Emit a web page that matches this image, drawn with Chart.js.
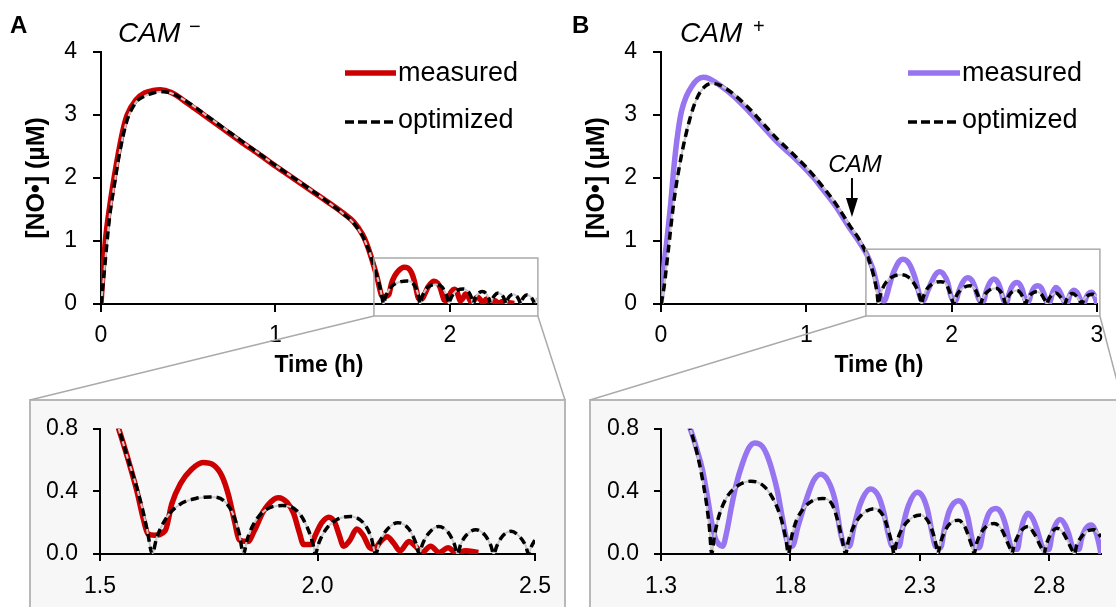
<!DOCTYPE html>
<html lang="en">
<head>
<meta charset="UTF-8">
<meta name="viewport" content="width=device-width, initial-scale=1.0">
<title>[NO•] measured vs optimized, CAM− / CAM+</title>
<script src="https://cdn.jsdelivr.net/npm/chart.js"></script>
<style>
  body { margin: 0; background: #fff; font-family: 'Liberation Sans', Arial, sans-serif; }
  #page { position: relative; width: 1116px; height: 607px; overflow: hidden; }
  #page canvas { position: absolute; }
  .txt { position: absolute; line-height: 1; white-space: nowrap; color: #000; }
  .panel { font-weight: bold; font-size: 24px; }
  .cond { font-style: italic; font-size: 28px; }
  .sup { font-size: 20px; }
  .key { font-size: 27px; }
  .swatch { position: absolute; }
  .zoombox { position: absolute; background: #f7f7f7; border: 2px solid #b8b8b8; box-sizing: border-box; }
</style>
</head>
<body>
<div id="page">
  <!-- shaded frames behind the two zoomed views -->
  <div class="zoombox" style="left:29px;top:399px;width:537px;height:230px"></div>
  <div class="zoombox" style="left:589px;top:399px;width:560px;height:230px"></div>

  <canvas id="zoomA" width="535" height="207" style="left:30px;top:400px"></canvas>
  <canvas id="zoomB" width="526" height="207" style="left:590px;top:400px"></canvas>
  <canvas id="mainA" width="580" height="400" style="left:0;top:0"></canvas>
  <canvas id="mainB" width="556" height="400" style="left:560px;top:0"></canvas>

  <!-- panel A labels -->
  <div class="txt panel" style="left:10px;top:13px">A</div>
  <div class="txt cond" style="left:118px;top:19px">CAM</div>
  <div class="txt sup" style="left:189px;top:16px">−</div>
  <svg class="swatch" style="left:345px;top:68px" width="51" height="10"><line x1="0" y1="5" x2="51" y2="5" stroke="#cc0000" stroke-width="5.5" stroke-linecap="round"/></svg>
  <div class="txt key" style="left:398px;top:59px">measured</div>
  <svg class="swatch" style="left:345px;top:117px" width="51" height="10"><line x1="0" y1="5" x2="51" y2="5" stroke="#000" stroke-width="3.5" stroke-dasharray="9,4"/></svg>
  <div class="txt key" style="left:398px;top:106px">optimized</div>

  <!-- panel B labels -->
  <div class="txt panel" style="left:572px;top:13px">B</div>
  <div class="txt cond" style="left:680px;top:19px">CAM</div>
  <div class="txt sup" style="left:753px;top:16px">+</div>
  <svg class="swatch" style="left:908px;top:68px" width="52" height="10"><line x1="0" y1="5" x2="52" y2="5" stroke="#9775f0" stroke-width="5.5" stroke-linecap="round"/></svg>
  <div class="txt key" style="left:962px;top:59px">measured</div>
  <svg class="swatch" style="left:908px;top:117px" width="52" height="10"><line x1="0" y1="5" x2="52" y2="5" stroke="#000" stroke-width="3.5" stroke-dasharray="9,4"/></svg>
  <div class="txt key" style="left:962px;top:106px">optimized</div>
</div>

<script>
  // time (h) and [NO•] (µM) — CAM− run
  const measA_t = [0, 0.01, 0.025, 0.05, 0.075, 0.1, 0.125, 0.15, 0.2, 0.25, 0.3, 0.34, 0.4, 0.5, 0.6, 0.7, 0.8, 0.9, 1.0, 1.1,
    1.2, 1.3, 1.39, 1.45, 1.5, 1.52, 1.543, 1.565, 1.585, 1.6, 1.61, 1.625, 1.65, 1.665, 1.685, 1.71, 1.737, 1.76, 1.78, 1.795,
    1.81, 1.82, 1.84, 1.855, 1.875, 1.9, 1.91, 1.93, 1.945, 1.958, 1.968, 1.985, 1.995, 2.01, 2.026, 2.04, 2.05, 2.06, 2.075, 2.09,
    2.105, 2.12, 2.13, 2.145, 2.16, 2.175, 2.19, 2.21, 2.225, 2.24, 2.26, 2.28, 2.30, 2.32, 2.34, 2.37];
  const measA_v = [0, 0.45, 1.0, 1.55, 2.0, 2.4, 2.75, 3.0, 3.24, 3.35, 3.39, 3.4, 3.36, 3.18, 2.98, 2.78, 2.58, 2.39, 2.19, 2.0,
    1.81, 1.62, 1.44, 1.3, 1.1, 0.98, 0.8, 0.6, 0.4, 0.22, 0.13, 0.12, 0.15, 0.32, 0.45, 0.54, 0.585, 0.57, 0.5, 0.38,
    0.2, 0.09, 0.08, 0.15, 0.27, 0.35, 0.36, 0.33, 0.26, 0.14, 0.06, 0.06, 0.12, 0.2, 0.235, 0.2, 0.12, 0.05, 0.09, 0.16,
    0.12, 0.04, 0.03, 0.08, 0.11, 0.07, 0.02, 0.08, 0.05, 0.01, 0.05, 0.01, 0.04, 0.005, 0.02, 0.01];
  const optA_t = [0, 0.015, 0.03, 0.05, 0.08, 0.1, 0.125, 0.15, 0.2, 0.25, 0.3, 0.36, 0.4, 0.5, 0.6, 0.7, 0.8, 0.9, 1.0, 1.1,
    1.2, 1.3, 1.39, 1.45, 1.5, 1.52, 1.543, 1.565, 1.585, 1.6, 1.61, 1.62, 1.63, 1.65, 1.68, 1.72, 1.754, 1.785, 1.805, 1.82,
    1.83, 1.838, 1.855, 1.88, 1.92, 1.955, 1.978, 1.99, 1.995, 2.003, 2.02, 2.045, 2.075, 2.105, 2.123, 2.134, 2.142, 2.158, 2.185, 2.21,
    2.226, 2.234, 2.241, 2.255, 2.278, 2.3, 2.315, 2.322, 2.329, 2.342, 2.364, 2.385, 2.399, 2.405, 2.412, 2.424, 2.445, 2.465, 2.479, 2.485,
    2.492, 2.5];
  const optA_v = [0, 0.4, 0.85, 1.4, 1.95, 2.3, 2.65, 2.92, 3.2, 3.3, 3.35, 3.37, 3.35, 3.2, 3.0, 2.8, 2.6, 2.4, 2.2, 2.01,
    1.82, 1.62, 1.43, 1.28, 1.08, 0.96, 0.8, 0.6, 0.42, 0.26, 0.13, 0, 0.1, 0.22, 0.31, 0.355, 0.365, 0.34, 0.26, 0.13,
    0, 0.09, 0.2, 0.28, 0.31, 0.27, 0.16, 0.06, 0, 0.07, 0.16, 0.22, 0.24, 0.2, 0.11, 0, 0.07, 0.15, 0.2, 0.16,
    0.07, 0, 0.06, 0.13, 0.175, 0.14, 0.06, 0, 0.06, 0.12, 0.155, 0.12, 0.05, 0, 0.05, 0.11, 0.145, 0.11, 0.05, 0,
    0.05, 0.09];

  // time (h) and [NO•] (µM) — CAM+ run
  const measB_t = [0, 0.01, 0.02, 0.04, 0.065, 0.09, 0.115, 0.14, 0.175, 0.21, 0.25, 0.29, 0.33, 0.4, 0.5, 0.6, 0.7, 0.8, 0.9, 0.97,
    1.02, 1.06, 1.1, 1.2, 1.3, 1.36, 1.413, 1.44, 1.46, 1.48, 1.496, 1.51, 1.525, 1.538, 1.555, 1.572, 1.59, 1.614, 1.64, 1.662,
    1.69, 1.71, 1.73, 1.75, 1.77, 1.786, 1.807, 1.83, 1.862, 1.89, 1.917, 1.945, 1.973, 1.992, 2.007, 2.028, 2.045, 2.07, 2.11, 2.14,
    2.16, 2.178, 2.194, 2.22, 2.235, 2.256, 2.29, 2.31, 2.33, 2.348, 2.36, 2.38, 2.395, 2.415, 2.45, 2.47, 2.486, 2.5, 2.51, 2.53,
    2.545, 2.567, 2.594, 2.615, 2.632, 2.646, 2.656, 2.677, 2.688, 2.7, 2.718, 2.735, 2.752, 2.768, 2.78, 2.8, 2.81, 2.822, 2.842, 2.86,
    2.875, 2.887, 2.897, 2.915, 2.925, 2.94, 2.963, 2.978, 2.99, 3.0];
  const measB_v = [0, 0.3, 0.6, 1.0, 1.55, 2.2, 2.7, 3.05, 3.3, 3.45, 3.56, 3.6, 3.58, 3.48, 3.3, 3.07, 2.82, 2.57, 2.36, 2.2,
    2.08, 1.98, 1.86, 1.56, 1.2, 1.0, 0.8, 0.66, 0.54, 0.36, 0.2, 0.1, 0.06, 0.05, 0.15, 0.3, 0.44, 0.575, 0.68, 0.71,
    0.69, 0.63, 0.53, 0.4, 0.22, 0.09, 0.05, 0.18, 0.35, 0.47, 0.51, 0.47, 0.34, 0.15, 0.06, 0.05, 0.17, 0.32, 0.415, 0.37,
    0.27, 0.13, 0.05, 0.05, 0.18, 0.31, 0.395, 0.37, 0.28, 0.13, 0.05, 0.04, 0.16, 0.28, 0.34, 0.31, 0.23, 0.11, 0.04, 0.04,
    0.15, 0.26, 0.29, 0.26, 0.18, 0.08, 0.03, 0.03, 0.13, 0.21, 0.26, 0.23, 0.16, 0.07, 0.025, 0.03, 0.12, 0.18, 0.22, 0.19,
    0.13, 0.06, 0.03, 0.03, 0.1, 0.16, 0.185, 0.15, 0.08, 0.0];
  const optB_t = [0, 0.02, 0.05, 0.09, 0.14, 0.2, 0.25, 0.3, 0.35, 0.4, 0.5, 0.6, 0.7, 0.8, 0.9, 1.0, 1.1, 1.2, 1.3, 1.36,
    1.413, 1.44, 1.46, 1.475, 1.487, 1.496, 1.505, 1.52, 1.55, 1.6, 1.648, 1.7, 1.74, 1.765, 1.782, 1.793, 1.802, 1.82, 1.85, 1.885,
    1.924, 1.96, 1.985, 2.0, 2.014, 2.022, 2.04, 2.075, 2.125, 2.16, 2.182, 2.194, 2.2, 2.208, 2.225, 2.26, 2.304, 2.335, 2.355, 2.365,
    2.37, 2.378, 2.395, 2.42, 2.45, 2.475, 2.495, 2.505, 2.51, 2.518, 2.535, 2.56, 2.587, 2.615, 2.637, 2.65, 2.656, 2.663, 2.68, 2.698,
    2.718, 2.742, 2.763, 2.775, 2.78, 2.787, 2.8, 2.812, 2.829, 2.852, 2.875, 2.89, 2.898, 2.905, 2.92, 2.945, 2.974, 3.0];
  const optB_v = [0, 0.25, 0.85, 1.65, 2.35, 2.95, 3.28, 3.45, 3.5, 3.48, 3.33, 3.12, 2.87, 2.62, 2.4, 2.17, 1.9, 1.6, 1.24, 1.04,
    0.8, 0.64, 0.48, 0.33, 0.17, 0, 0.1, 0.22, 0.35, 0.44, 0.465, 0.43, 0.33, 0.22, 0.1, 0, 0.09, 0.2, 0.29, 0.34,
    0.355, 0.32, 0.2, 0.09, 0, 0.07, 0.16, 0.25, 0.29, 0.24, 0.13, 0.05, 0, 0.06, 0.14, 0.22, 0.25, 0.2, 0.11, 0.04,
    0, 0.06, 0.14, 0.2, 0.215, 0.17, 0.08, 0.03, 0, 0.06, 0.13, 0.18, 0.195, 0.16, 0.08, 0.03, 0, 0.05, 0.12, 0.16,
    0.175, 0.13, 0.06, 0.02, 0, 0.05, 0.11, 0.145, 0.165, 0.14, 0.07, 0.02, 0, 0.05, 0.1, 0.145, 0.155, 0.11];

  // axis ticks
  const xTicksA = [0, 1, 2];
  const xTicksB = [0, 1, 2, 3];
  const yTicksMain = [0, 1, 2, 3, 4];
  const xTicksZoomA = [1.5, 2.0, 2.5];
  const xTicksZoomB = [1.3, 1.8, 2.3, 2.8];
  const yTicksZoom = [0, 0.4, 0.8];

  const FONT = "'Liberation Sans', Arial, sans-serif";
  const RED = '#cc0000';
  const PURPLE = '#9775f0';
  const tickFont = { family: FONT, size: 23 };
  const xTitleFont = { family: FONT, size: 23, weight: 'bold' };
  const yTitleFont = { family: FONT, size: 25, weight: 'bold' };

  function pts(ts, vs) {
    return ts.map((t, i) => ({ x: t, y: vs[i] }));
  }

  // dashed fit on top of a pale grey trace, measured curve underneath
  function lineSets(measT, measV, optT, optV, color) {
    return [
      { data: pts(optT, optV), borderColor: '#000', borderWidth: 3.5, borderDash: [8, 5], order: 0 },
      { data: pts(optT, optV), borderColor: '#c8c8c8', borderWidth: 2, order: 1 },
      { data: pts(measT, measV), borderColor: color, borderWidth: 5.5, borderJoinStyle: 'round', order: 2 }
    ];
  }

  function axisX(min, max, ticks, height, digits, tickLen, pad, title) {
    return {
      type: 'linear', min, max,
      afterBuildTicks: s => { s.ticks = ticks.map(v => ({ value: v })); },
      afterFit: s => { s.height = height; },
      ticks: { autoSkip: false, maxRotation: 0, padding: pad, color: '#000', font: tickFont,
        callback: v => v.toFixed(digits) },
      grid: { drawOnChartArea: false, color: '#000', lineWidth: 2, tickLength: tickLen },
      border: { color: '#000', width: 2 },
      title: title
        ? { display: true, text: title, color: '#000', font: xTitleFont, padding: { top: 0, bottom: 21 } }
        : { display: false }
    };
  }

  function axisY(max, ticks, width, digits, tickLen, pad, title) {
    return {
      type: 'linear', min: 0, max,
      afterBuildTicks: s => { s.ticks = ticks.map(v => ({ value: v })); },
      afterFit: s => { s.width = width; },
      ticks: { padding: pad, color: '#000', font: tickFont, callback: v => v.toFixed(digits) },
      grid: { drawOnChartArea: false, color: '#000', lineWidth: 2, tickLength: tickLen },
      border: { color: '#000', width: 2 },
      title: title
        ? { display: true, text: title, color: '#000', font: yTitleFont, padding: { top: 22, bottom: 0 } }
        : { display: false }
    };
  }

  // grey frame around the zoomed window plus the two leader lines
  const zoomFrame = {
    id: 'zoomFrame',
    afterDraw(chart, args, o) {
      const { ctx, scales: { x, y } } = chart;
      const l = x.getPixelForValue(o.from), r = x.getPixelForValue(o.to);
      const t = y.getPixelForValue(o.top), b = y.getPixelForValue(0) + 12;
      ctx.save();
      ctx.strokeStyle = '#aaaaaa';
      ctx.lineWidth = 1.5;
      ctx.strokeRect(l, t, r - l, b - t);
      ctx.beginPath();
      ctx.moveTo(l, b); ctx.lineTo(o.ends[0], chart.height);
      ctx.moveTo(r, b); ctx.lineTo(o.ends[1], chart.height);
      ctx.stroke();
      ctx.restore();
    }
  };

  // "CAM" addition marker
  const camArrow = {
    id: 'camArrow',
    afterDatasetsDraw(chart, args, o) {
      if (!o.text) return;
      const { ctx, scales: { x, y } } = chart;
      const px = x.getPixelForValue(o.at), tip = y.getPixelForValue(o.tip);
      ctx.save();
      ctx.strokeStyle = '#000';
      ctx.fillStyle = '#000';
      ctx.lineWidth = 2;
      ctx.beginPath();
      ctx.moveTo(px, tip - 39);
      ctx.lineTo(px, tip - 16);
      ctx.stroke();
      ctx.beginPath();
      ctx.moveTo(px - 6, tip - 19);
      ctx.lineTo(px + 6, tip - 19);
      ctx.lineTo(px, tip);
      ctx.closePath();
      ctx.fill();
      ctx.font = 'italic 24px ' + FONT;
      ctx.textAlign = 'center';
      ctx.textBaseline = 'alphabetic';
      ctx.fillText(o.text, px + 3, tip - 45);
      ctx.restore();
    }
  };

  function baseOptions(padding, scales, pluginOpts) {
    return {
      responsive: false,
      animation: false,
      events: [],
      layout: { padding },
      elements: { point: { radius: 0 }, line: { cubicInterpolationMode: 'monotone', fill: false } },
      plugins: Object.assign({ legend: { display: false }, tooltip: { enabled: false } }, pluginOpts),
      scales
    };
  }

  // CAM− overview
  new Chart(document.getElementById('mainA'), {
    type: 'line',
    data: { datasets: lineSets(measA_t, measA_v, optA_t, optA_v, RED) },
    options: baseOptions({ left: 0, top: 52, right: 43, bottom: 0 }, {
      x: axisX(0, 2.5, xTicksA, 96, 0, 8, 10, 'Time (h)'),
      y: axisY(4, yTicksMain, 101, 0, 8, 16, '[NO•] (µM)')
    }, { zoomFrame: { from: 1.565, to: 2.505, top: 0.73, ends: [30, 565] }, camArrow: {} }),
    plugins: [zoomFrame, camArrow]
  });

  // CAM+ overview
  new Chart(document.getElementById('mainB'), {
    type: 'line',
    data: { datasets: lineSets(measB_t, measB_v, optB_t, optB_v, PURPLE) },
    options: baseOptions({ left: 0, top: 52, right: 19, bottom: 0 }, {
      x: axisX(0, 3, xTicksB, 96, 0, 8, 10, 'Time (h)'),
      y: axisY(4, yTicksMain, 101, 0, 8, 16, '[NO•] (µM)')
    }, { zoomFrame: { from: 1.41, to: 3.02, top: 0.87, ends: [30, 562] }, camArrow: { text: 'CAM', at: 1.314, tip: 1.38 } }),
    plugins: [zoomFrame, camArrow]
  });

  // CAM− oscillation close-up
  new Chart(document.getElementById('zoomA'), {
    type: 'line',
    data: { datasets: lineSets(measA_t, measA_v, optA_t, optA_v, RED) },
    options: baseOptions({ left: 0, top: 28, right: 30, bottom: 0 }, {
      x: axisX(1.5, 2.5, xTicksZoomA, 53, 1, 7, 12, null),
      y: axisY(0.8, yTicksZoom, 70, 1, 7, 15, null)
    }, {})
  });

  // CAM+ oscillation close-up
  new Chart(document.getElementById('zoomB'), {
    type: 'line',
    data: { datasets: lineSets(measB_t, measB_v, optB_t, optB_v, PURPLE) },
    options: baseOptions({ left: 0, top: 28, right: 15, bottom: 0 }, {
      x: axisX(1.3, 3.0, xTicksZoomB, 53, 1, 7, 12, null),
      y: axisY(0.8, yTicksZoom, 71, 1, 7, 15, null)
    }, {})
  });
</script>
</body>
</html>
